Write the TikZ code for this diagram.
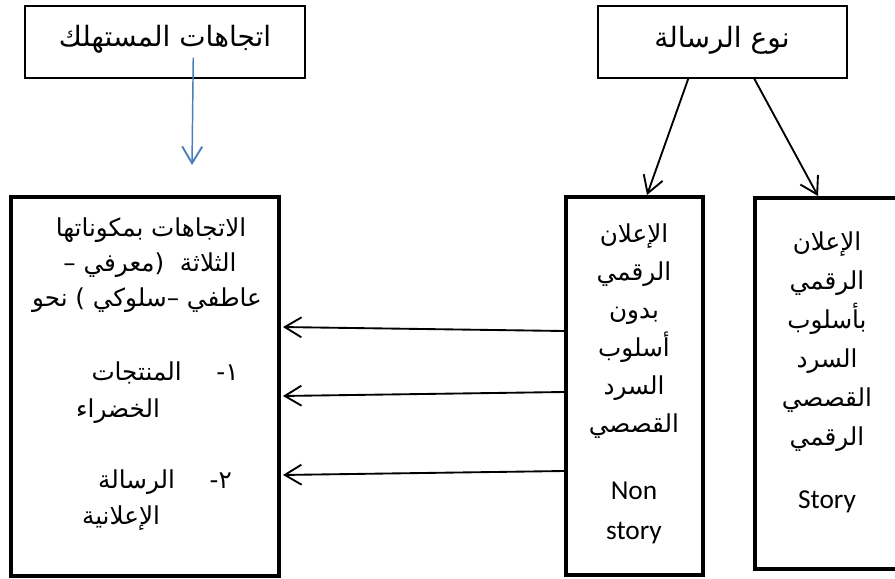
\documentclass[tikz,border=0pt]{standalone}
\usepackage{fontspec}
\setmainfont{Carlito}
\newfontfamily\arabicfont[Script=Arabic]{DejaVu Sans}
\TeXXeTstate=1
\usetikzlibrary{arrows.meta,calc,fit}
\definecolor{arrowblue}{RGB}{74,126,187}
\begin{document}
\begin{tikzpicture}[x=0.75pt,y=-0.75pt,
  smallbox/.style={draw, line width=1.1pt, inner sep=0pt},
  bigbox/.style={draw, line width=3pt, inner sep=0pt},
  artitle/.style={font=\arabicfont\fontsize{21}{24}\selectfont, inner sep=0pt, anchor=base},
  ar/.style={font=\arabicfont\fontsize{18.5}{22}\selectfont, inner sep=0pt, anchor=base},
  lat/.style={font=\fontsize{20.5}{24}\selectfont, inner sep=0pt, anchor=base},
  arr/.style={-{Straight Barb[length=12.5pt,width=15pt,line width=1.4pt]}, line width=1.4pt},
  ]
\useasboundingbox (0,0) rectangle (895,578);
\clip (0,0) rectangle (895,578);

% boxes
\node[smallbox, fit={(25,6) (305,78)}] (cons) {};
\node[smallbox, fit={(598,6) (847,78)}] (msg) {};
\node[bigbox, fit={(11,197) (279,576)}] (att) {};
\node[bigbox, fit={(566,197) (703,575)}] (nost) {};
\node[bigbox, fit={(755,198) (905,569)}] (story) {};

% titles
\node[artitle] (consT) at (165,46) {\beginR اتجاهات المستهلك\endR};
\node[artitle] (msgT) at (722,47) {\beginR نوع الرسالة\endR};

% left box text
\node[ar] (a1) at (151,236) {\beginR الاتجاهات بمكوناتها\endR};
\node[ar] (a2) at (150,271) {\beginR الثلاثة\ \ (معرفي –\endR};
\node[ar] (a3) at (147,306) {\beginR عاطفي –سلوكي ) نحو\endR};
\node[ar] (a4) at (165,380) {\beginR ١-\hspace{26pt}المنتجات\endR};
\node[ar] (a5) at (118,417) {\beginR الخضراء\endR};
\node[ar] (a6) at (165,488) {\beginR ٢-\hspace{26pt}الرسالة\endR};
\node[ar] (a7) at (121,524) {\beginR الإعلانية\endR};

% middle box text
\node[ar] (n1) at (634,242) {\beginR الإعلان\endR};
\node[ar] (n2) at (634,280) {\beginR الرقمي\endR};
\node[ar] (n3) at (634,318) {\beginR بدون\endR};
\node[ar] (n4) at (634,356) {\beginR أسلوب\endR};
\node[ar] (n5) at (634,394) {\beginR السرد\endR};
\node[ar] (n6) at (634,432) {\beginR القصصي\endR};
\node[lat] (n7) at (634,499) {Non};
\node[lat] (n8) at (634,539) {story};

% right box text
\node[ar] (s1) at (827,250) {\beginR الإعلان\endR};
\node[ar] (s2) at (827,289) {\beginR الرقمي\endR};
\node[ar] (s3) at (827,328) {\beginR بأسلوب\endR};
\node[ar] (s4) at (827,367) {\beginR السرد\endR};
\node[ar] (s5) at (827,406) {\beginR القصصي\endR};
\node[ar] (s6) at (827,445) {\beginR الرقمي\endR};
\node[lat] (s7) at (827,508) {Story};

% connectors
\coordinate (blueEnd) at ($(att.north west)+(183,-30)$);
\draw[arr, draw=arrowblue, line width=1.1pt] ($(cons.south west)+(169,-21)$) -- (blueEnd);
\draw[arr] ($(msg.south west)+(91,0)$) -- ($(nost.north west)+(83,0)$);
\draw[arr] ($(msg.south west)+(157,0)$) -- ($(story.north west)+(65,0)$);
\draw[arr, shorten >=1.5pt] ($(nost.north west)+(0,136)$) -- ($(att.north east)+(0,132)$);
\draw[arr, shorten >=1.5pt] ($(nost.north west)+(0,197)$) -- ($(att.north east)+(0,201)$);
\draw[arr, shorten >=1.5pt] ($(nost.north west)+(0,276)$) -- ($(att.north east)+(0,280)$);
\end{tikzpicture}
\end{document}
